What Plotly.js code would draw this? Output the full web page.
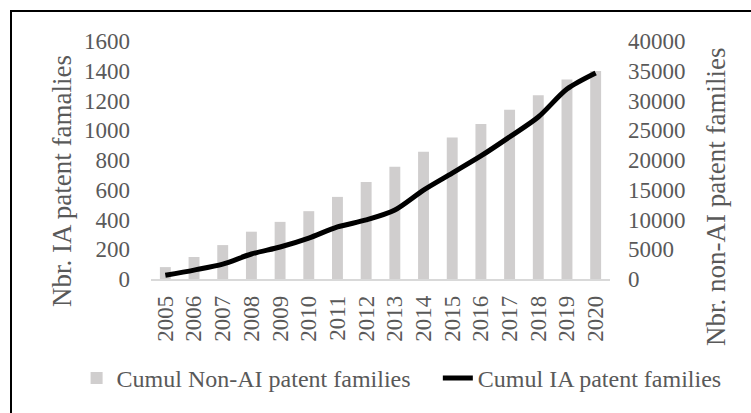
<!DOCTYPE html>
<html>
<head>
<meta charset="utf-8">
<script src="https://cdn.plot.ly/plotly-3.0.1.min.js"></script>
<style>
  html, body { margin: 0; padding: 0; overflow: hidden; background: #fff; }
  #wrap { position: relative; width: 751px; height: 413px; overflow: hidden; }
  #chart { width: 751px; height: 413px; }
  #frame { position: absolute; left: 10px; top: 10px; width: 900px; height: 600px;
           border: 2px solid #000; box-sizing: border-box; pointer-events: none; }
</style>
</head>
<body>
<div id="wrap"><div id="chart"></div><div id="frame"></div></div>
<script>
const years = ['2005','2006','2007','2008','2009','2010','2011','2012','2013','2014','2015','2016','2017','2018','2019','2020'];
const nonAI = [2000, 3700, 5700, 7950, 9600, 11400, 13800, 16300, 18850, 21400, 23800, 26050, 28450, 30900, 33550, 34950];
const aiCum = [25, 60, 100, 168, 215, 275, 350, 397, 464, 598, 712, 827, 955, 1089, 1277, 1385];
const leftTicks = [0, 200, 400, 600, 800, 1000, 1200, 1400, 1600];
const rightTicks = [0, 5000, 10000, 15000, 20000, 25000, 30000, 35000, 40000];
const leftTitle = 'Nbr. IA patent famalies';
const rightTitle = 'Nbr. non-AI patent families';

const FAM = 'Liberation Serif, Times New Roman, serif';
const tickFont = { family: FAM, size: 23, color: '#595959' };
const legFont = { family: FAM, size: 24, color: '#595959' };
const titleFont = { family: FAM, size: 27, color: '#595959' };

const traces = [
  { type: 'bar', name: 'Cumul Non-AI patent families', x: years, y: nonAI,
    marker: { color: '#d0cece' }, yaxis: 'y', legend: 'legend' },
  { type: 'scatter', mode: 'lines', name: 'Cumul IA patent families', x: years, y: aiCum,
    line: { color: '#000', width: 5, shape: 'spline', smoothing: 0.8 }, yaxis: 'y2', legend: 'legend2' }
];

const legBase = { orientation: 'h', xref: 'container', yref: 'container', xanchor: 'left',
                  y: 0.084, yanchor: 'middle', font: legFont, bgcolor: 'rgba(0,0,0,0)' };

const layout = {
  width: 751, height: 413,
  margin: { l: 151, r: 141, t: 41, b: 134 },
  paper_bgcolor: '#fff', plot_bgcolor: '#fff',
  font: tickFont,
  showlegend: true,
  bargap: 0.62,
  legend: Object.assign({}, legBase, { x: 0.102 }),
  legend2: Object.assign({}, legBase, { x: 0.583 }),
  xaxis: { type: 'category', tickangle: -90, showgrid: false, showline: true,
           linecolor: '#d9d9d9', linewidth: 1.5, ticks: '', ticklabelstandoff: 6,
           tickfont: tickFont, zeroline: false },
  yaxis: { side: 'right', range: [0, 40000], tickvals: rightTicks, ticktext: rightTicks.map(String),
           showgrid: false, zeroline: false, showline: false, ticks: '', ticklabelstandoff: 17,
           tickfont: tickFont },
  yaxis2: { side: 'left', overlaying: 'y', range: [0, 1600], tickvals: leftTicks, ticktext: leftTicks.map(String),
            showgrid: false, zeroline: false, showline: false, ticks: '', ticklabelstandoff: 20,
            tickfont: tickFont },
  annotations: [
    { text: leftTitle, xref: 'paper', yref: 'paper', x: -0.194, y: 0.412, xanchor: 'center', yanchor: 'middle',
      textangle: -90, showarrow: false, font: titleFont },
    { text: rightTitle, xref: 'paper', yref: 'paper', x: 1.231, y: 0.345, xanchor: 'center', yanchor: 'middle',
      textangle: -90, showarrow: false, font: titleFont }
  ]
};

Plotly.newPlot('chart', traces, layout, { displayModeBar: false, staticPlot: true });
</script>
</body>
</html>
